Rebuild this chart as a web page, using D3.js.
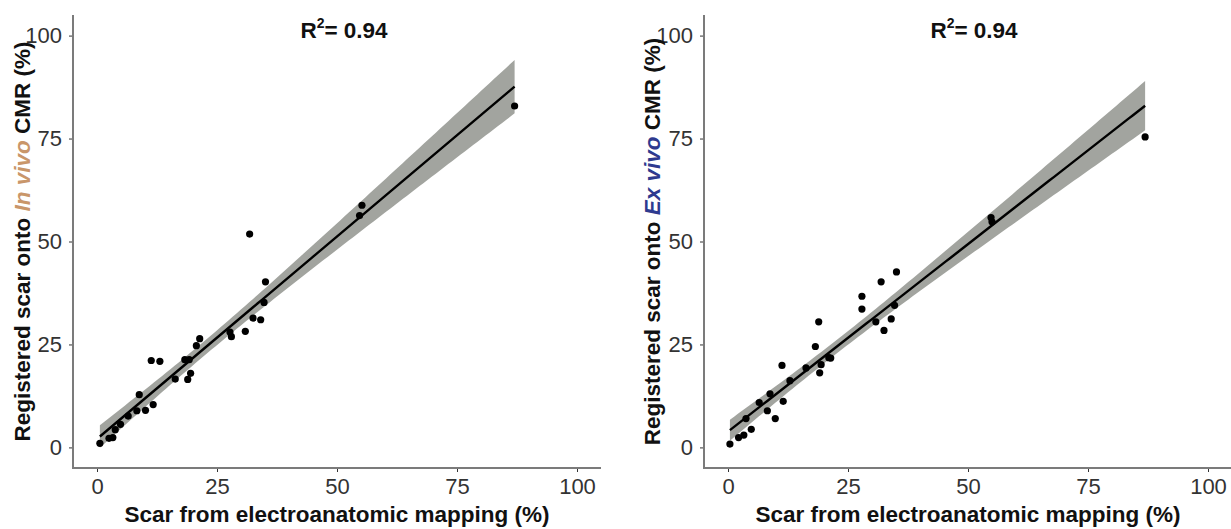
<!DOCTYPE html>
<html>
<head>
<meta charset="utf-8">
<script src="https://cdn.jsdelivr.net/npm/d3@7"></script>
<style>
	body { margin: 0; background: #fff; }
	svg { display: block; font-family: 'Liberation Sans', Arial, sans-serif; }
	.tick text { font-size: 22px; fill: #333; }
	.tick line { stroke: #333; }
	.axis-title { font-size: 22.5px; font-weight: bold; fill: #111; }
</style>
</head>
<body>
<div id="chart"></div>
<script>
// scar from electroanatomic mapping (%) vs registered scar onto CMR (%)
var inVivoX = [0.6, 2.5, 3.3, 3.8, 4.9, 6.5, 8.3, 8.8, 10.1, 11.7, 11.3, 13.1, 16.3, 18.3, 19.2, 18.9, 19.5, 20.7, 21.4, 27.7, 28.0, 30.9, 32.5, 34.1, 34.8, 35.1, 31.8, 54.7, 55.2, 87.0];
var inVivoY = [1.0, 2.2, 2.4, 4.3, 5.6, 7.6, 8.9, 12.8, 9.0, 10.4, 21.1, 20.9, 16.6, 21.3, 21.3, 16.5, 18.0, 24.7, 26.4, 28.0, 26.9, 28.2, 31.4, 31.0, 35.2, 40.2, 51.8, 56.3, 58.8, 82.9];

var exVivoX = [0.4, 2.2, 3.3, 3.75, 4.85, 6.5, 8.2, 8.75, 9.85, 11.5, 11.25, 12.9, 16.25, 18.2, 18.9, 19.1, 19.4, 21.0, 21.4, 27.9, 27.9, 30.8, 31.9, 32.5, 34.0, 34.7, 35.1, 54.8, 55.0, 86.9];
var exVivoY = [0.8, 2.4, 3.0, 7.0, 4.4, 10.9, 8.9, 13.0, 7.0, 11.2, 19.9, 16.2, 19.3, 24.5, 30.5, 18.1, 20.1, 21.8, 21.7, 36.7, 33.6, 30.5, 40.2, 28.4, 31.2, 34.5, 42.6, 55.8, 54.8, 75.4];

var tickValues = [0, 25, 50, 75, 100];
var rSquared = ['0.94', '0.94'];
var xTitle = 'Scar from electroanatomic mapping (%)';
var yTitleParts = [
	['Registered scar onto ', 'In vivo', ' CMR (%)'],
	['Registered scar onto ', 'Ex vivo', ' CMR (%)']
];

drawPanels();

function drawPanels() {
	var width = 1231;
	var height = 529;
	var domain = [-5, 105];
	var top = 15;
	var bottom = 468;
	var panels = [
		{ left: 73, right: 601, xs: inVivoX, ys: inVivoY, r2: rSquared[0], title: yTitleParts[0], color: '#c9966a', titleX: 22, r2X: 344 },
		{ left: 704, right: 1232, xs: exVivoX, ys: exVivoY, r2: rSquared[1], title: yTitleParts[1], color: '#2e3a8f', titleX: 652, r2X: 974 }
	];

	var svg = d3.select('#chart')
		.append('svg')
		.attr('width', width)
		.attr('height', height);

	panels.forEach(function(p) {
		var xScale = d3.scaleLinear().domain(domain).range([p.left, p.right]);
		var yScale = d3.scaleLinear().domain(domain).range([bottom, top]);
		var fit = linearFit(p.xs, p.ys);
		var g = svg.append('g');

		// confidence band + regression line
		var xExtent = d3.extent(p.xs);
		var grid = d3.range(0, 101).map(function(i) {
			return xExtent[0] + (xExtent[1] - xExtent[0]) * i / 100;
		});

		var band = d3.area()
			.x(function(x) { return xScale(x); })
			.y0(function(x) { return yScale(fit.predict(x) - fit.halfWidth(x)); })
			.y1(function(x) { return yScale(fit.predict(x) + fit.halfWidth(x)); });

		g.append('path')
			.datum(grid)
			.attr('d', band)
			.attr('fill', '#a2a49f');

		g.append('path')
			.datum(grid)
			.attr('d', d3.line()
				.x(function(x) { return xScale(x); })
				.y(function(x) { return yScale(fit.predict(x)); }))
			.attr('fill', 'none')
			.attr('stroke', '#000')
			.attr('stroke-width', 2.4);

		g.selectAll('.dot')
			.data(p.xs)
			.enter()
			.append('circle')
			.attr('class', 'dot')
			.attr('cx', function(d) { return xScale(d); })
			.attr('cy', function(d, i) { return yScale(p.ys[i]); })
			.attr('r', 3.6)
			.attr('fill', '#000');

		// axes
		var xAxis = g.append('g')
			.attr('transform', 'translate(0,' + bottom + ')')
			.call(d3.axisBottom(xScale).tickValues(tickValues).tickSize(4).tickPadding(6));
		var yAxis = g.append('g')
			.attr('transform', 'translate(' + p.left + ',0)')
			.call(d3.axisLeft(yScale).tickValues(tickValues).tickSize(4).tickPadding(7));

		xAxis.select('.domain').remove();
		yAxis.select('.domain').remove();

		g.append('path')
			.attr('d', 'M' + p.left + ',' + top + 'V' + bottom + 'H' + p.right)
			.attr('fill', 'none')
			.attr('stroke', '#7b7b7b')
			.attr('stroke-width', 2);

		g.append('text')
			.attr('class', 'axis-title')
			.attr('x', (p.left + p.right) / 2)
			.attr('y', 522)
			.attr('text-anchor', 'middle')
			.text(xTitle);

		var yt = g.append('text')
			.attr('class', 'axis-title')
			.attr('text-anchor', 'middle')
			.attr('transform', 'translate(' + p.titleX + ',' + ((top + bottom) / 2) + ') rotate(-90)')
			.attr('dy', '0.35em');
		yt.append('tspan').text(p.title[0]);
		yt.append('tspan').attr('font-style', 'italic').attr('fill', p.color).text(p.title[1]);
		yt.append('tspan').text(p.title[2]);

		var r2 = g.append('text')
			.attr('class', 'axis-title')
			.attr('x', p.r2X)
			.attr('y', 38)
			.attr('text-anchor', 'middle');
		r2.append('tspan').text('R');
		r2.append('tspan').attr('font-size', 14).attr('dy', -10).text('2');
		r2.append('tspan').attr('dy', 10).text('= ' + p.r2);
	});
}

// least squares fit with 95% confidence interval of the mean
function linearFit(xs, ys) {
	var n = xs.length;
	var mx = d3.mean(xs);
	var my = d3.mean(ys);
	var sxx = 0, sxy = 0, sse = 0;

	for (var i = 0; i < n; i++) {
		sxx += (xs[i] - mx) * (xs[i] - mx);
		sxy += (xs[i] - mx) * (ys[i] - my);
	}

	var slope = sxy / sxx;
	var intercept = my - slope * mx;

	for (var j = 0; j < n; j++) {
		var r = ys[j] - (intercept + slope * xs[j]);
		sse += r * r;
	}

	var s = Math.sqrt(sse / (n - 2));
	var t = 2.048; // t(0.975, 28)

	return {
		predict: function(x) { return intercept + slope * x; },
		halfWidth: function(x) { return t * s * Math.sqrt(1 / n + (x - mx) * (x - mx) / sxx); }
	};
}
</script>
</body>
</html>
